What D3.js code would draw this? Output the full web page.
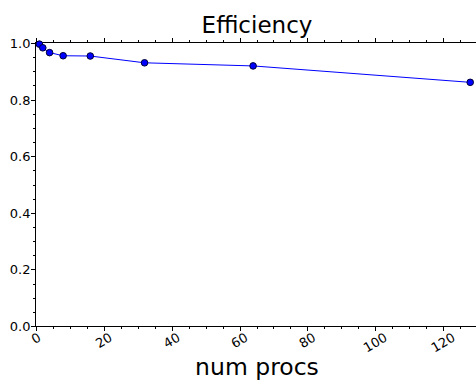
<!DOCTYPE html>
<html><head><meta charset="utf-8">
<script src="https://cdn.jsdelivr.net/npm/d3@7"></script>
<style>body{margin:0;background:#fff}svg{display:block}text{font-family:"DejaVu Sans",sans-serif}</style>
</head><body>
<svg id="c" width="476" height="381"></svg>
<script>
const procs = [1, 2, 4, 8, 16, 32, 64, 128];
const efficiency = [0.996, 0.983, 0.966, 0.955, 0.954, 0.930, 0.919, 0.861];
const xTicks = [0, 20, 40, 60, 80, 100, 120];
const yTicks = [0.0, 0.2, 0.4, 0.6, 0.8, 1.0];
const title = "Efficiency";
const xLabel = "num procs";

const svg = d3.select("#c");
const x = d3.scaleLinear().domain([0, 130]).range([36, 477]);
const y = d3.scaleLinear().domain([0, 1]).range([326, 43]);
const xMinor = d3.range(0, 131, 5).filter(v => v % 20 !== 0);
const yMinor = d3.range(0, 1.001, 0.05).filter(v => Math.abs(v*5 - Math.round(v*5)) > 1e-6);

const g = svg.append("g");
g.append("line").attr("x1", 36).attr("x2", 477).attr("y1", 326.5).attr("y2", 326.5).attr("stroke", "#000");
g.append("line").attr("x1", 36).attr("x2", 477).attr("y1", 42.5).attr("y2", 42.5).attr("stroke", "#000");
g.append("line").attr("x1", 35.5).attr("x2", 35.5).attr("y1", 42).attr("y2", 327).attr("stroke", "#000");

xTicks.forEach(v => {
  const px = Math.round(x(v)) + 0.5;
  g.append("line").attr("x1", px).attr("x2", px).attr("y1", 326).attr("y2", 331).attr("stroke", "#000");
  g.append("line").attr("x1", px).attr("x2", px).attr("y1", 43).attr("y2", 38).attr("stroke", "#000");
});
xMinor.forEach(v => {
  const px = Math.round(x(v)) + 0.5;
  g.append("line").attr("x1", px).attr("x2", px).attr("y1", 326).attr("y2", 329).attr("stroke", "#000");
  g.append("line").attr("x1", px).attr("x2", px).attr("y1", 43).attr("y2", 40).attr("stroke", "#000");
});
yTicks.forEach(v => {
  const py = Math.round(y(v)) + 0.5;
  g.append("line").attr("x1", 31).attr("x2", 36).attr("y1", py).attr("y2", py).attr("stroke", "#000");
  g.append("text").attr("x", 30.5).attr("y", py).attr("text-anchor", "end").attr("dominant-baseline", "central")
    .attr("font-size", 13).attr("fill", "#000").text(v.toFixed(1));
});
yMinor.forEach(v => {
  const py = Math.round(y(v)) + 0.5;
  g.append("line").attr("x1", 33).attr("x2", 36).attr("y1", py).attr("y2", py).attr("stroke", "#000");
});
const ang = 30 * Math.PI / 180;
xTicks.forEach(v => {
  const t = g.append("text").attr("font-size", 13).attr("text-anchor", "middle")
    .attr("dominant-baseline", "central").attr("fill", "#000").text(String(v));
  const w = t.node().getComputedTextLength();
  const h = 10;
  const bh = w * Math.sin(ang) + h * Math.cos(ang);
  const cx = x(v), cy = 332 + bh / 2;
  t.attr("x", cx).attr("y", cy).attr("transform", `rotate(-30,${cx},${cy})`);
});

const line = d3.line().x((d, i) => x(procs[i])).y(d => y(d));
g.append("path").datum(efficiency).attr("d", line).attr("fill", "none").attr("stroke", "#0000ff").attr("stroke-width", 1);
g.selectAll("circle.p").data(efficiency).enter().append("circle")
  .attr("cx", (d, i) => x(procs[i])).attr("cy", d => y(d)).attr("r", 3.3)
  .attr("fill", "#0000ff").attr("stroke", "#000033").attr("stroke-width", 1);

svg.append("text").attr("x", 257).attr("y", 33).attr("text-anchor", "middle").attr("font-size", 23).attr("fill", "#000").text(title);
svg.append("text").attr("x", 257).attr("y", 375).attr("text-anchor", "middle").attr("font-size", 23.5).attr("fill", "#000").text(xLabel);
</script>
</body></html>
